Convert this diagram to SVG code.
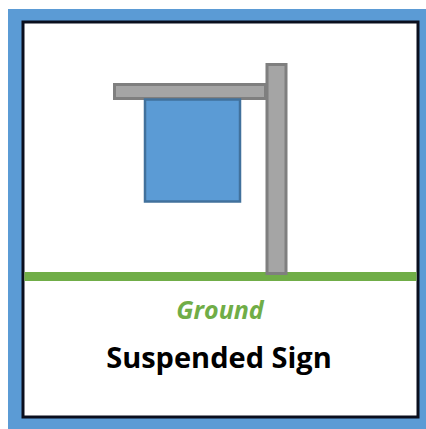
<svg xmlns="http://www.w3.org/2000/svg" width="426" height="429" viewBox="0 0 426 429">
<style>
.gray{fill:#A5A5A5;stroke:#7F7F7F;stroke-width:3}
.sign{fill:#5B9BD5;stroke:#41719C;stroke-width:2.5}
text{font-family:"Open Sans","Noto Sans",sans-serif;font-weight:bold;text-anchor:middle}
</style>
<rect x="8" y="9" width="418" height="420" fill="#5B9BD5"/>
<rect x="23" y="22" width="395" height="395" fill="#FFFFFF" stroke="#0A0F1E" stroke-width="3"/>
<g id="ground"><rect x="24.5" y="272" width="392" height="9" fill="#70AD47"/></g>
<g id="post"><rect class="gray" x="267" y="64.5" width="19" height="209"/></g>
<g id="arm"><rect class="gray" x="114.5" y="84.5" width="151" height="14"/></g>
<g id="sign"><rect class="sign" x="145" y="99.5" width="95" height="102"/></g>
<text x="220" y="319" font-size="25" font-style="italic" fill="#70AD47">Ground</text>
<text x="219" y="368" font-size="29" fill="#000000">Suspended Sign</text>
</svg>
